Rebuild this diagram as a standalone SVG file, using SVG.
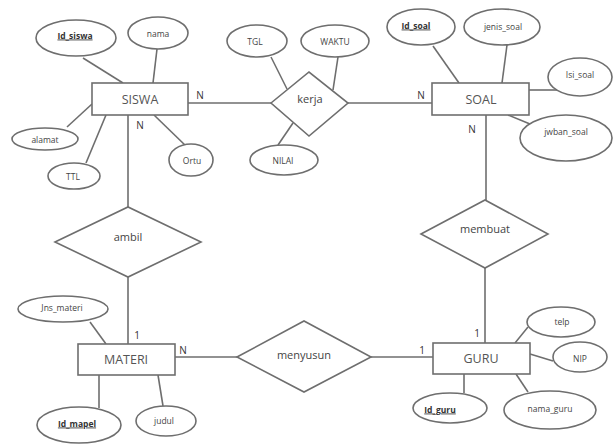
<svg xmlns="http://www.w3.org/2000/svg" width="613" height="445" viewBox="0 0 613 445">
<style>
.s{fill:#fff;stroke:#6e6e6e;stroke-width:1.6}
.l{stroke:#6e6e6e;stroke-width:1.6;fill:none}
.a{font-family:"Open Sans","Liberation Sans",sans-serif;font-size:8.5px;fill:#444;text-anchor:middle;dominant-baseline:central}
.k{text-decoration:underline;font-weight:bold;fill:#333}
.e{font-family:"Open Sans","Liberation Sans",sans-serif;font-size:12.5px;fill:#555;text-anchor:middle;dominant-baseline:central}
.r{font-family:"Open Sans","Liberation Sans",sans-serif;font-size:11px;fill:#444;text-anchor:middle;dominant-baseline:central}
.c{font-family:"Open Sans","Liberation Sans",sans-serif;font-size:10px;fill:#333;text-anchor:middle;dominant-baseline:central}
</style>
<rect width="613" height="445" fill="#fff"/>
<g id="connectors">
<line class="l" x1="188" y1="103" x2="271" y2="103"/>
<line class="l" x1="348" y1="103" x2="432" y2="103"/>
<line class="l" x1="128" y1="115" x2="128" y2="207"/>
<line class="l" x1="128" y1="277" x2="128" y2="344"/>
<line class="l" x1="486" y1="115" x2="486" y2="200"/>
<line class="l" x1="485" y1="268" x2="485" y2="343"/>
<line class="l" x1="175" y1="357" x2="237" y2="357"/>
<line class="l" x1="371" y1="357" x2="433" y2="357"/>
<line class="l" x1="83" y1="58" x2="123" y2="83"/>
<line class="l" x1="157" y1="49" x2="153" y2="83"/>
<line class="l" x1="67" y1="127" x2="92" y2="104"/>
<line class="l" x1="86" y1="163" x2="106" y2="115"/>
<line class="l" x1="154" y1="115" x2="187" y2="147"/>
<line class="l" x1="271" y1="57" x2="287" y2="89"/>
<line class="l" x1="338" y1="57" x2="333" y2="90"/>
<line class="l" x1="278" y1="145" x2="293" y2="123"/>
<line class="l" x1="433" y1="46" x2="459" y2="83"/>
<line class="l" x1="507" y1="45" x2="502" y2="83"/>
<line class="l" x1="529" y1="90" x2="558" y2="90"/>
<line class="l" x1="508" y1="115" x2="530" y2="124"/>
<line class="l" x1="90" y1="322" x2="106" y2="344"/>
<line class="l" x1="99" y1="375" x2="99" y2="408"/>
<line class="l" x1="158" y1="375" x2="163" y2="406"/>
<line class="l" x1="528" y1="327" x2="515" y2="343"/>
<line class="l" x1="530" y1="354" x2="553" y2="361"/>
<line class="l" x1="464" y1="374" x2="464" y2="393"/>
<line class="l" x1="516" y1="374" x2="528" y2="392"/>
<text class="c" x="200" y="95">N</text>
<text class="c" x="140" y="125">N</text>
<text class="c" x="421" y="95">N</text>
<text class="c" x="472" y="129">N</text>
<text class="c" x="137" y="335">1</text>
<text class="c" x="183" y="350">N</text>
<text class="c" x="477" y="333">1</text>
<text class="c" x="422" y="350">1</text>
</g>
<g id="SISWA"><rect class="s" x="92" y="83" width="96" height="32"/><text class="e" x="140" y="99">SISWA</text></g>
<g id="SOAL"><rect class="s" x="432" y="83" width="97" height="32"/><text class="e" x="481" y="99">SOAL</text></g>
<g id="MATERI"><rect class="s" x="78" y="344" width="97" height="31"/><text class="e" x="126" y="359">MATERI</text></g>
<g id="GURU"><rect class="s" x="433" y="343" width="97" height="31"/><text class="e" x="481" y="358">GURU</text></g>
<g id="kerja"><polygon class="s" points="271,103 309,72 348,103 309,136"/><text class="r" x="310" y="98">kerja</text></g>
<g id="ambil"><polygon class="s" points="55,242 128,207 201,242 128,277"/><text class="r" x="128" y="236">ambil</text></g>
<g id="membuat"><polygon class="s" points="421,234 485,200 548,234 485,268"/><text class="r" x="485" y="228">membuat</text></g>
<g id="menyusun"><polygon class="s" points="237,357 304,321 371,357 304,392"/><text class="r" x="304" y="354">menyusun</text></g>
<g id="Id_siswa"><ellipse class="s" cx="76" cy="38" rx="40" ry="18"/><text class="a k" x="75" y="35">Id_siswa</text></g>
<g id="nama"><ellipse class="s" cx="158" cy="33" rx="30" ry="16"/><text class="a" x="158" y="33">nama</text></g>
<g id="alamat"><ellipse class="s" cx="45" cy="139" rx="33" ry="11"/><text class="a" x="45" y="139">alamat</text></g>
<g id="TTL"><ellipse class="s" cx="74" cy="176" rx="26" ry="13"/><text class="a" x="73" y="176">TTL</text></g>
<g id="Ortu"><ellipse class="s" cx="191" cy="160" rx="22" ry="16"/><text class="a" x="192" y="160">Ortu</text></g>
<g id="TGL"><ellipse class="s" cx="257" cy="41" rx="30" ry="16"/><text class="a" x="255" y="41">TGL</text></g>
<g id="WAKTU"><ellipse class="s" cx="335" cy="41" rx="34" ry="16"/><text class="a" x="335" y="41">WAKTU</text></g>
<g id="NILAI"><ellipse class="s" cx="284" cy="160" rx="34" ry="15"/><text class="a" x="283" y="160">NILAI</text></g>
<g id="Id_soal"><ellipse class="s" cx="421" cy="27" rx="34" ry="18"/><text class="a k" x="416" y="25">Id_soal</text></g>
<g id="jenis_soal"><ellipse class="s" cx="502" cy="27" rx="38" ry="18"/><text class="a" x="503" y="26">jenis_soal</text></g>
<g id="Isi_soal"><ellipse class="s" cx="580" cy="77" rx="32" ry="19"/><text class="a" x="580" y="74">Isi_soal</text></g>
<g id="jwban_soal"><ellipse class="s" cx="566" cy="138" rx="46" ry="23"/><text class="a" x="566" y="131">jwban_soal</text></g>
<g id="Jns_materi"><ellipse class="s" cx="63" cy="309" rx="45" ry="13"/><text class="a" x="62" y="307">Jns_materi</text></g>
<g id="Id_mapel"><ellipse class="s" cx="79" cy="425" rx="42" ry="18"/><text class="a k" x="77" y="423">Id_mapel</text></g>
<g id="judul"><ellipse class="s" cx="166" cy="421" rx="30" ry="15"/><text class="a" x="164" y="420">judul</text></g>
<g id="telp"><ellipse class="s" cx="561" cy="322" rx="34" ry="15"/><text class="a" x="562" y="321">telp</text></g>
<g id="NIP"><ellipse class="s" cx="580" cy="357" rx="27" ry="15"/><text class="a" x="580" y="358">NIP</text></g>
<g id="Id_guru"><ellipse class="s" cx="450" cy="408" rx="37" ry="15"/><text class="a k" x="440" y="409">Id_guru</text></g>
<g id="nama_guru"><ellipse class="s" cx="550" cy="410" rx="46" ry="19"/><text class="a" x="550" y="408">nama_guru</text></g>
</svg>
